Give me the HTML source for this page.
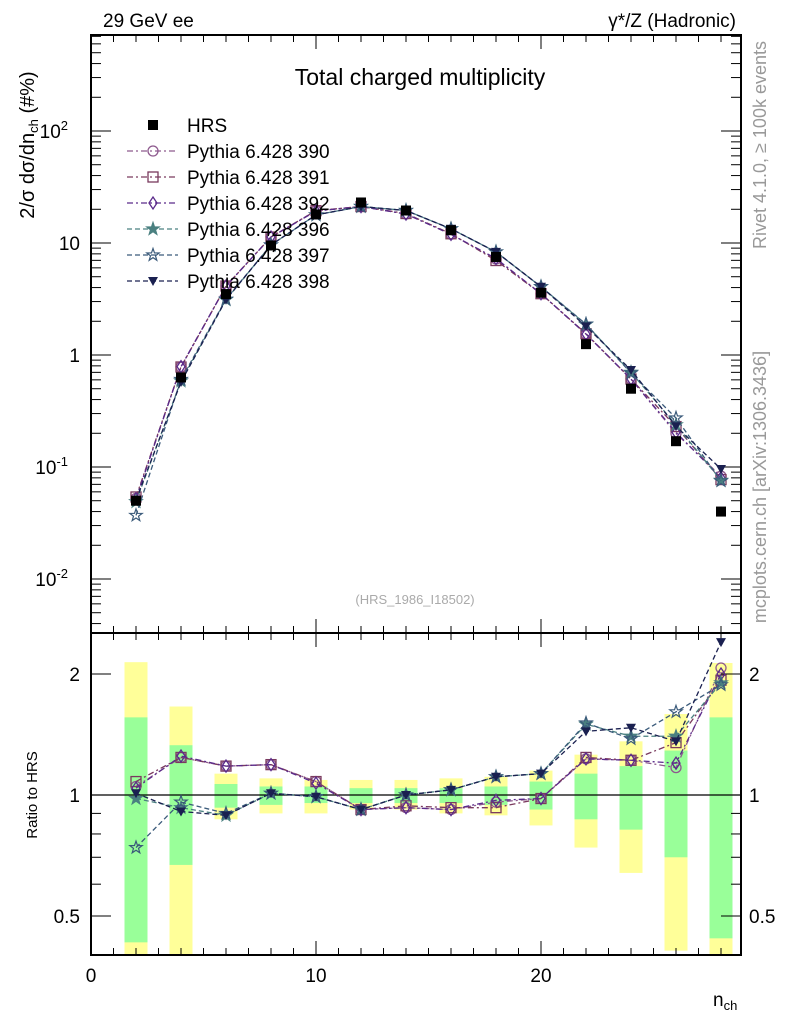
<!DOCTYPE html>
<html><head><meta charset="utf-8"><style>
body{margin:0;background:#fff;}
svg{font-family:"Liberation Sans",sans-serif;}
</style></head><body>
<svg id="chart" width="786" height="1024" viewBox="0 0 786 1024" xmlns="http://www.w3.org/2000/svg">
<g id="bands"></g>
<g id="axes"></g>
<g id="series"></g>
<text x="103" y="27" font-size="19">29 GeV ee</text>
<text x="736" y="27" font-size="19" text-anchor="end">γ*/Z (Hadronic)</text>
<text x="420" y="85" font-size="23" text-anchor="middle">Total charged multiplicity</text>
<text x="415" y="604" font-size="13" fill="#aaa" text-anchor="middle">(HRS_1986_I18502)</text>
<text transform="translate(34,145) rotate(-90)" font-size="20" text-anchor="middle">2/σ  dσ/dn<tspan font-size="13" dy="4">ch</tspan><tspan dy="-4"> (#%)</tspan></text>
<text transform="translate(37,795) rotate(-90)" font-size="15" text-anchor="middle">Ratio to HRS</text>
<text x="713" y="1006" font-size="19">n<tspan font-size="13" dy="4">ch</tspan></text>
<text transform="translate(766,145) rotate(-90)" font-size="18" fill="#999" text-anchor="middle">Rivet 4.1.0, ≥ 100k events</text>
<text transform="translate(766,487) rotate(-90)" font-size="18" fill="#999" text-anchor="middle">mcplots.cern.ch [arXiv:1306.3436]</text>
<g id="legend"></g>
</svg>
<script>
const nch=[2,4,6,8,10,12,14,16,18,20,22,24,26,28];
const hrs=[0.05,0.63,3.5,9.5,18,23,19.5,13,7.5,3.6,1.25,0.5,0.17,0.04];
const r390=[1.05,1.24,1.18,1.19,1.08,0.92,0.93,0.92,0.96,0.98,1.23,1.22,1.17,2.07];
const r391=[1.08,1.24,1.18,1.19,1.08,0.92,0.94,0.93,0.93,0.98,1.24,1.22,1.35,1.93];
const r392=[1.04,1.25,1.18,1.19,1.07,0.92,0.93,0.92,0.97,0.98,1.23,1.22,1.2,2.0];
const r396=[0.98,0.93,0.89,1.01,0.99,0.92,1.0,1.03,1.11,1.13,1.5,1.4,1.4,1.9];
const r397=[0.74,0.96,0.9,1.01,0.99,0.92,1.0,1.03,1.11,1.13,1.51,1.38,1.61,1.88];
const r398=[1.01,0.91,0.89,1.01,0.99,0.92,1.0,1.03,1.11,1.13,1.44,1.47,1.36,2.4];
const yelUp=[2.14,1.66,1.13,1.10,1.09,1.09,1.09,1.10,1.11,1.15,1.26,1.36,1.59,2.13];
const grnUp=[1.56,1.33,1.065,1.05,1.05,1.04,1.04,1.04,1.05,1.08,1.13,1.18,1.29,1.56];
const grnDn=[0.43,0.67,0.93,0.945,0.955,0.955,0.955,0.955,0.945,0.92,0.87,0.82,0.70,0.44];
const yelDn=[0.39,0.3,0.87,0.90,0.90,0.92,0.92,0.90,0.89,0.84,0.74,0.64,0.41,0.3];
const yTicks=[0.01,0.1,1,10,100];
const yTickLabels=["10","10","1","10","10"];
const yTickExp=["-2","-1","","","2"];
const rTicks=[0.5,1,2];
const rTickLabels=["0.5","1","2"];
const xTicks=[0,10,20];

const NS="http://www.w3.org/2000/svg";
const X=n=>91+22.5*n;
const Y=v=>355-112*Math.log10(v);
const R=r=>Math.max(633,Math.min(955,795-402*Math.log10(r)));
function mk(tag,attrs,parent){const e=document.createElementNS(NS,tag);for(const k in attrs)e.setAttribute(k,attrs[k]);parent.appendChild(e);return e;}
const axes=document.getElementById('axes'),bands=document.getElementById('bands'),ser=document.getElementById('series'),leg=document.getElementById('legend');

nch.forEach((n,i)=>{
 let e=mk('rect',{x:X(n)-11.5,y:R(yelUp[i]),width:23,height:R(yelDn[i])-R(yelUp[i]),fill:'#ffff99'},bands);
 
 
 e=mk('rect',{x:X(n)-11.5,y:R(grnUp[i]),width:23,height:R(grnDn[i])-R(grnUp[i]),fill:'#99ff99'},bands);
 
 
});

let f=mk('rect',{x:91,y:35,width:650,height:598,fill:'none',stroke:'#000','stroke-width':2},axes);


f=mk('rect',{x:91,y:633,width:650,height:322,fill:'none',stroke:'#000','stroke-width':2},axes);


let l=mk('line',{x1:91,x2:741,y1:R(1),y2:R(1),stroke:'#000','stroke-width':1.2},axes);



for(let n=0;n<=28;n++){
 const big=n%10===0, len=big?14:7;
 [[35,1],[633,-1],[633,1],[955,-1]].forEach(([y0,d])=>{
  mk('line',{x1:X(n),x2:X(n),y1:y0,y2:y0+d*len,stroke:'#000','stroke-width':1},axes);
 });
}
xTicks.forEach(n=>{
 const t=mk('text',{x:X(n),y:982,'font-size':19,'text-anchor':'middle'},axes);
 t.textContent=String(n);
 
 
});
for(let d=-3;d<=2;d++){for(let m=1;m<10;m++){const v=m*Math.pow(10,d);const y=Y(v);if(y<35||y>633)continue;const len=m===1?20:10;
 mk('line',{x1:91,x2:91+len,y1:y,y2:y,stroke:'#000'},axes);mk('line',{x1:741,x2:741-len,y1:y,y2:y,stroke:'#000'},axes);}}
yTicks.forEach((v,i)=>{
 const t=mk('text',{x:yTickExp[i]?68:80,y:Y(v)+7,'font-size':19,'text-anchor':'end'},axes);
 t.textContent=yTickLabels[i];
 
 
 if(yTickExp[i]){const s=mk('tspan',{'font-size':13,dy:-8},t);s.textContent=yTickExp[i];}
});
[0.4,0.5,0.6,0.7,0.8,0.9,1,2].forEach(v=>{const y=R(v);const len=(v===0.5||v===1||v===2)?20:10;
 mk('line',{x1:91,x2:91+len,y1:y,y2:y,stroke:'#000'},axes);mk('line',{x1:741,x2:741-len,y1:y,y2:y,stroke:'#000'},axes);});
rTicks.forEach((v,i)=>{
 let t=mk('text',{x:80,y:R(v)+7,'font-size':19,'text-anchor':'end'},axes);
 t.textContent=rTickLabels[i];
 
 
 t=mk('text',{x:749,y:R(v)+7,'font-size':19},axes);
 t.textContent=rTickLabels[i];
 
 
});

function marker(type,x,y,col,g){
 const s=5;
 if(type==='sqf')return mk('rect',{x:x-5,y:y-5,width:10,height:10,fill:'#000'},g);
 if(type==='circ')return mk('circle',{cx:x,cy:y,r:s,fill:'none',stroke:col,'stroke-width':1.3},g);
 if(type==='sq')return mk('rect',{x:x-s,y:y-s,width:2*s,height:2*s,fill:'none',stroke:col,'stroke-width':1.3},g);
 if(type==='dia')return mk('polygon',{points:`${x},${y-6} ${x+4},${y} ${x},${y+6} ${x-4},${y}`,fill:'none',stroke:col,'stroke-width':1.3},g);
 if(type==='tri')return mk('polygon',{points:`${x-5},${y-4} ${x+5},${y-4} ${x},${y+5}`,fill:col},g);
 if(type==='starf'||type==='star'){let p=[];for(let k=0;k<10;k++){const rr=k%2?2.6:6.5,a=-Math.PI/2+k*Math.PI/5;p.push((x+rr*Math.cos(a)).toFixed(1)+','+(y+rr*Math.sin(a)).toFixed(1));}
  return mk('polygon',{points:p.join(' '),fill:type==='starf'?col:'none',stroke:col,'stroke-width':1.2},g);}
}
const series=[
 {name:'Pythia 6.428 390',r:r390,col:'#8e5a8e',m:'circ',dash:'6,3,2,3'},
 {name:'Pythia 6.428 391',r:r391,col:'#7a3a5e',m:'sq',dash:'6,3,2,3'},
 {name:'Pythia 6.428 392',r:r392,col:'#5a2a8a',m:'dia',dash:'6,3,2,3'},
 {name:'Pythia 6.428 396',r:r396,col:'#4a8080',m:'starf',dash:'5,3'},
 {name:'Pythia 6.428 397',r:r397,col:'#3a5a7a',m:'star',dash:'5,3'},
 {name:'Pythia 6.428 398',r:r398,col:'#1a2050',m:'tri',dash:'5,3'}];
series.forEach((s,si)=>{
 const g=mk('g',{},ser);
 
 
 const mc=nch.map((n,i)=>hrs[i]*s.r[i]);
 mk('polyline',{points:nch.map((n,i)=>X(n)+','+Y(mc[i])).join(' '),fill:'none',stroke:s.col,'stroke-width':1.3,'stroke-dasharray':s.dash},g);
 mk('polyline',{points:nch.map((n,i)=>X(n)+','+R(s.r[i])).join(' '),fill:'none',stroke:s.col,'stroke-width':1.3,'stroke-dasharray':s.dash},g);
 nch.forEach((n,i)=>{
  const m=marker(s.m,X(n),Y(mc[i]),s.col,g);
  
  
  const m2=marker(s.m,X(n),R(s.r[i]),s.col,g);
  
  
 });
 const ly=151+26*si;
 mk('line',{x1:127,x2:178,y1:ly,y2:ly,stroke:s.col,'stroke-width':1.2,'stroke-dasharray':s.dash},leg);
 marker(s.m,153,ly,s.col,leg);
 const t=mk('text',{x:187,y:ly+7,'font-size':19},leg);
 t.textContent=s.name;
 
 
});
const dg=mk('g',{},ser);


nch.forEach((n,i)=>{const m=marker('sqf',X(n),Y(hrs[i]),'#000',dg);
 
 });
marker('sqf',153,125,'#000',leg);
const ht=mk('text',{x:187,y:132,'font-size':19},leg);
ht.textContent='HRS';


</script>
</body></html>
